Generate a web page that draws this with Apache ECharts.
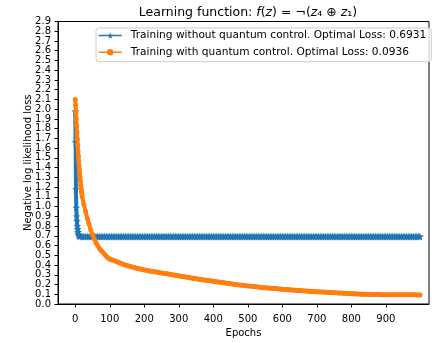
<!DOCTYPE html>
<html>
<head>
<meta charset="utf-8">
<script src="https://cdn.jsdelivr.net/npm/echarts@6/dist/echarts.min.js"></script>
<style>
  html, body { margin: 0; padding: 0; background: #fff; }
  #chart { width: 432px; height: 343px; }
</style>
</head>
<body>
<div id="chart"></div>
<script>
// epoch positions: every epoch at the start, then every 5th epoch
const range = (a, b, s) => { const r = []; for (let v = a; v <= b; v += s) r.push(v); return r }

// blue: training without quantum control
const blueEarlyEpochs = [0, 1, 2, 3, 4, 5, 6, 7, 8, 9, 10, 12, 15]
const blueEarlyLoss = [1.98, 1.66, 1.18, 0.99, 0.90, 0.85, 0.80, 0.77, 0.74, 0.72, 0.705, 0.697, 0.694]
const blueLateEpochs = range(20, 995, 5).concat([999])
const blueLateLoss = [
  0.6931, 0.6931, 0.6931, 0.6931, 0.6931, 0.6931, 0.6931, 0.6931, 0.6931, 0.6931,
  0.6931, 0.6931, 0.6931, 0.6931, 0.6931, 0.6931, 0.6931, 0.6931, 0.6931, 0.6931,
  0.6931, 0.6931, 0.6931, 0.6931, 0.6931, 0.6931, 0.6931, 0.6931, 0.6931, 0.6931,
  0.6931, 0.6931, 0.6931, 0.6931, 0.6931, 0.6931, 0.6931, 0.6931, 0.6931, 0.6931,
  0.6931, 0.6931, 0.6931, 0.6931, 0.6931, 0.6931, 0.6931, 0.6931, 0.6931, 0.6931,
  0.6931, 0.6931, 0.6931, 0.6931, 0.6931, 0.6931, 0.6931, 0.6931, 0.6931, 0.6931,
  0.6931, 0.6931, 0.6931, 0.6931, 0.6931, 0.6931, 0.6931, 0.6931, 0.6931, 0.6931,
  0.6931, 0.6931, 0.6931, 0.6931, 0.6931, 0.6931, 0.6931, 0.6931, 0.6931, 0.6931,
  0.6931, 0.6931, 0.6931, 0.6931, 0.6931, 0.6931, 0.6931, 0.6931, 0.6931, 0.6931,
  0.6931, 0.6931, 0.6931, 0.6931, 0.6931, 0.6931, 0.6931, 0.6931, 0.6931, 0.6931,
  0.6931, 0.6931, 0.6931, 0.6931, 0.6931, 0.6931, 0.6931, 0.6931, 0.6931, 0.6931,
  0.6931, 0.6931, 0.6931, 0.6931, 0.6931, 0.6931, 0.6931, 0.6931, 0.6931, 0.6931,
  0.6931, 0.6931, 0.6931, 0.6931, 0.6931, 0.6931, 0.6931, 0.6931, 0.6931, 0.6931,
  0.6931, 0.6931, 0.6931, 0.6931, 0.6931, 0.6931, 0.6931, 0.6931, 0.6931, 0.6931,
  0.6931, 0.6931, 0.6931, 0.6931, 0.6931, 0.6931, 0.6931, 0.6931, 0.6931, 0.6931,
  0.6931, 0.6931, 0.6931, 0.6931, 0.6931, 0.6931, 0.6931, 0.6931, 0.6931, 0.6931,
  0.6931, 0.6931, 0.6931, 0.6931, 0.6931, 0.6931, 0.6931, 0.6931, 0.6931, 0.6931,
  0.6931, 0.6931, 0.6931, 0.6931, 0.6931, 0.6931, 0.6931, 0.6931, 0.6931, 0.6931,
  0.6931, 0.6931, 0.6931, 0.6931, 0.6931, 0.6931, 0.6931, 0.6931, 0.6931, 0.6931,
  0.6931, 0.6931, 0.6931, 0.6931, 0.6931, 0.6931, 0.6931
]

// orange: training with quantum control
const orangeEarlyEpochs = [0, 1, 2, 3, 4, 5, 6, 7, 8, 9, 10, 11, 12, 13, 14, 15, 16, 17, 18, 19, 20,
  25, 30, 35, 40, 45, 50, 55, 60, 65, 70, 75, 80, 85, 90, 95, 100]
const orangeEarlyLoss = [2.10, 2.04, 1.97, 1.90, 1.83, 1.76, 1.69, 1.63, 1.57, 1.52, 1.47, 1.42, 1.38, 1.34, 1.30, 1.26, 1.22, 1.19, 1.16, 1.13, 1.10,
  1.02, 0.95, 0.88, 0.82, 0.76, 0.71, 0.67, 0.63, 0.60, 0.57, 0.55, 0.53, 0.51, 0.49, 0.475, 0.46]
const orangeLateEpochs = range(105, 995, 5).concat([999])
const orangeLateLoss = [
  0.455, 0.45, 0.443, 0.435, 0.428, 0.42, 0.412, 0.405, 0.40, 0.395,
  0.39, 0.385, 0.38, 0.375, 0.37, 0.365, 0.361, 0.357, 0.353, 0.35,
  0.346, 0.343, 0.34, 0.337, 0.334, 0.331, 0.328, 0.325, 0.322, 0.319,
  0.316, 0.313, 0.31, 0.307, 0.304, 0.301, 0.298, 0.295, 0.292, 0.289,
  0.286, 0.283, 0.28, 0.277, 0.274, 0.271, 0.268, 0.265, 0.262, 0.259,
  0.256, 0.253, 0.25, 0.248, 0.245, 0.243, 0.24, 0.238, 0.235, 0.233,
  0.23, 0.228, 0.225, 0.223, 0.22, 0.218, 0.215, 0.213, 0.21, 0.208,
  0.205, 0.203, 0.2, 0.198, 0.196, 0.194, 0.192, 0.19, 0.188, 0.186,
  0.184, 0.182, 0.18, 0.178, 0.176, 0.174, 0.172, 0.17, 0.168, 0.167,
  0.165, 0.164, 0.162, 0.161, 0.159, 0.158, 0.156, 0.155, 0.153, 0.152,
  0.15, 0.149, 0.147, 0.146, 0.144, 0.143, 0.141, 0.14, 0.139, 0.138,
  0.136, 0.135, 0.134, 0.133, 0.131, 0.13, 0.129, 0.128, 0.127, 0.126,
  0.125, 0.124, 0.123, 0.122, 0.121, 0.12, 0.119, 0.118, 0.117, 0.116,
  0.115, 0.114, 0.113, 0.112, 0.111, 0.11, 0.109, 0.108, 0.107, 0.106,
  0.105, 0.104, 0.103, 0.102, 0.102, 0.101, 0.1, 0.1, 0.099, 0.099,
  0.098, 0.098, 0.097, 0.097, 0.097, 0.097, 0.096, 0.096, 0.096, 0.096,
  0.095, 0.095, 0.095, 0.095, 0.095, 0.095, 0.094, 0.094, 0.094, 0.094,
  0.094, 0.094, 0.094, 0.094, 0.094, 0.094, 0.0937, 0.0936, 0.0936,
  0.0936
]

const xTicks = [0, 100, 200, 300, 400, 500, 600, 700, 800, 900]
const yTicks = [0, 0.1, 0.2, 0.3, 0.4, 0.5, 0.6, 0.7, 0.8, 0.9, 1.0, 1.1, 1.2, 1.3, 1.4,
  1.5, 1.6, 1.7, 1.8, 1.9, 2.0, 2.1, 2.2, 2.3, 2.4, 2.5, 2.6, 2.7, 2.8, 2.9]
// the two end ticks go on a second, overlaid axis so ECharts does not drop their neighbours
const yEndTicks = [0, 2.9]
const seriesNames = [
  'Training without quantum control. Optimal Loss: 0.6931',
  'Training with quantum control. Optimal Loss: 0.0936'
]

const FONT = 'DejaVu Sans'
const starPath = 'path://M50,0 L61,35 L98,35 L68,57 L79,91 L50,70 L21,91 L32,57 L2,35 L39,35 Z'

const pairs = (xs, ys) => xs.map((e, i) => [e, ys[i]])

const yLabel = {
  fontFamily: FONT, fontSize: 10, color: '#000', margin: 7,
  hideOverlap: false,
  formatter: v => v.toFixed(1)
}

const chart = echarts.init(document.getElementById('chart'))

const option = {
  animation: false,
  backgroundColor: '#fff',
  textStyle: { fontFamily: FONT },
  title: {
    text: '{n|Learning function: }{i|f}{n|(}{i|z}{n|) = ¬(}{i|z}{n|₄ ⊕ }{i|z}{n|₁)}',
    left: 243,
    textAlign: 'center',
    top: 1,
    textStyle: {
      fontWeight: 'normal',
      rich: {
        n: { fontFamily: FONT, fontSize: 12.5, fontWeight: 'normal', color: '#000' },
        i: { fontFamily: FONT, fontSize: 12.5, fontWeight: 'normal', fontStyle: 'italic', color: '#000' }
      }
    }
  },
  legend: {
    orient: 'vertical',
    left: 96,
    top: 28,
    padding: [1, 5, 3, 2],
    itemGap: 3.7,
    itemWidth: 23,
    itemHeight: 8,
    backgroundColor: 'rgba(255,255,255,0.8)',
    borderColor: '#ccc',
    borderWidth: 1,
    borderRadius: 3,
    lineStyle: { width: 1.5 },
    textStyle: { fontFamily: FONT, fontSize: 10.6, lineHeight: 13, color: '#000', padding: [0, 0, 0, 4] },
    data: seriesNames
  },
  grid: {
    left: 58,
    right: 3,
    top: 21.5,
    bottom: 37.5,
    show: true,
    borderColor: '#000',
    borderWidth: 1
  },
  xAxis: {
    type: 'value',
    min: -50,
    max: 1025,
    name: 'Epochs',
    nameLocation: 'middle',
    nameGap: 24,
    nameMoveOverlap: false,
    nameTextStyle: { fontFamily: FONT, fontSize: 10, color: '#000' },
    splitLine: { show: false },
    axisLine: { show: true, onZero: false, lineStyle: { color: '#000', width: 1 } },
    axisTick: { show: true, length: 3.5, lineStyle: { color: '#000' }, customValues: xTicks },
    axisLabel: { fontFamily: FONT, fontSize: 10, color: '#000', margin: 10, customValues: xTicks }
  },
  yAxis: [
    {
      type: 'value',
      position: 'left',
      min: 0,
      max: 2.9,
      name: 'Negative log likelihood loss',
      nameLocation: 'middle',
      nameGap: 25,
      nameMoveOverlap: false,
      nameTextStyle: { fontFamily: FONT, fontSize: 10, color: '#000' },
      splitLine: { show: false },
      axisLine: { show: true, onZero: false, lineStyle: { color: '#000', width: 1 } },
      axisTick: { show: true, length: 3.5, lineStyle: { color: '#000' }, customValues: yTicks },
      axisLabel: Object.assign({ showMinLabel: false, showMaxLabel: false, customValues: yTicks }, yLabel)
    },
    {
      type: 'value',
      position: 'left',
      min: 0,
      max: 2.9,
      splitLine: { show: false },
      axisLine: { show: false, onZero: false },
      axisTick: { show: true, length: 3.5, lineStyle: { color: '#000' }, customValues: yEndTicks },
      axisLabel: Object.assign({ showMinLabel: true, showMaxLabel: true, customValues: yEndTicks }, yLabel)
    }
  ],
  series: [
    {
      name: seriesNames[0],
      type: 'line',
      color: '#1f77b4',
      data: pairs(blueEarlyEpochs, blueEarlyLoss).concat(pairs(blueLateEpochs, blueLateLoss)),
      symbol: starPath,
      symbolSize: 8,
      showAllSymbol: true,
      lineStyle: { width: 4 },
      z: 3
    },
    {
      name: seriesNames[1],
      type: 'line',
      color: '#ff7f0e',
      data: pairs(orangeEarlyEpochs, orangeEarlyLoss).concat(pairs(orangeLateEpochs, orangeLateLoss)),
      symbol: 'circle',
      symbolSize: 5,
      showAllSymbol: true,
      lineStyle: { width: 4 },
      z: 4
    }
  ]
}

chart.setOption(option)
</script>
</body>
</html>
